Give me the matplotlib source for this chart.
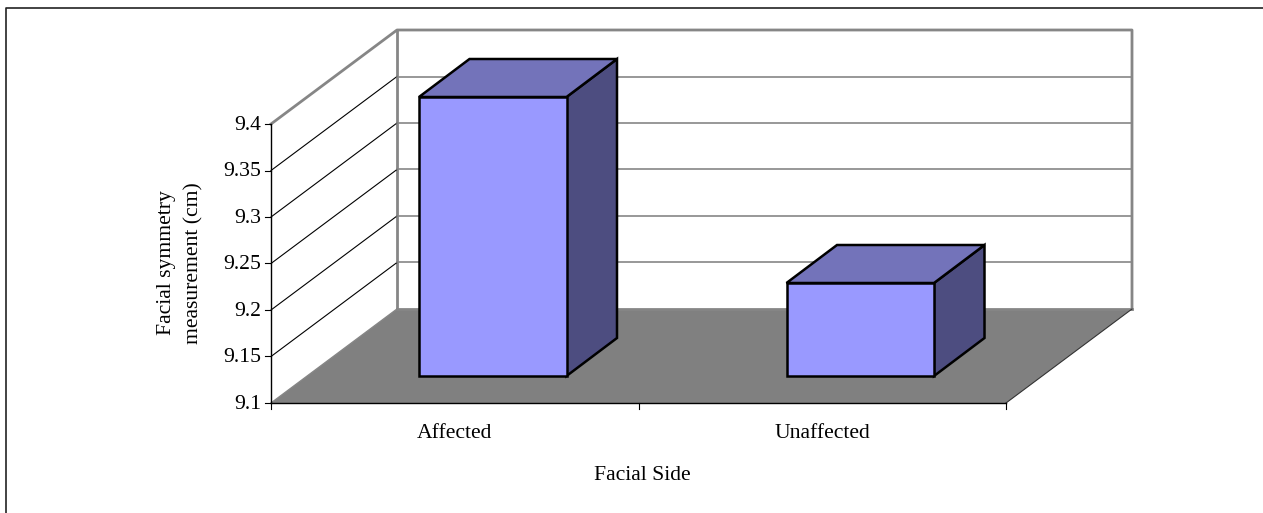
import matplotlib
matplotlib.use('Agg')
import matplotlib.pyplot as plt
from matplotlib.patches import Polygon

categories = ['Affected', 'Unaffected']
values = [9.4, 9.2]
y_ticks = [9.1, 9.15, 9.2, 9.25, 9.3, 9.35, 9.4]
y_tick_labels = ['9.1', '9.15', '9.2', '9.25', '9.3', '9.35', '9.4']

plt.rcParams['font.family'] = ['Liberation Serif']

W, H = 1263, 513
fig = plt.figure(figsize=(W / 100, H / 100), dpi=100)
ax = fig.add_axes([0, 0, 1, 1])
ax.set_xlim(0, W)
ax.set_ylim(H, 0)
ax.axis('off')

# frame of the fake 3d box, in pixels
x0, x1 = 271, 1006
y_base, px_per_unit = 403, 930
depth_x, depth_y = 126, 94
ymin = y_ticks[0]
ymax = y_ticks[-1]
font_size = 15.6


def vy(v):
    return y_base - (v - ymin) * px_per_unit


def back(x, y):
    return x + depth_x, y - depth_y


# outer border, only top and left are inside the canvas
ax.plot([6, 6, W], [H, 8, 8], color='#222222', lw=1.2, zorder=1)

# back wall and left side
gray = '#868686'
bx0, by0 = back(x0, vy(ymin))
bx1, by1 = back(x1, vy(ymin))
btx, bty = back(x0, vy(ymax))
ax.plot([x0, btx, bx1, bx1], [vy(ymax), bty, bty, by1], color=gray, lw=2, zorder=2)
ax.plot([btx, btx], [bty, by0], color=gray, lw=2, zorder=2)
for t in y_ticks[1:-1]:
    bx, by = back(x0, vy(t))
    ax.plot([x0, bx], [vy(t), by], color='black', lw=0.8, zorder=2)
    ax.plot([bx, bx1], [by, by], color=gray, lw=1.2, zorder=2)

# floor
ax.add_patch(Polygon([(x0, vy(ymin)), (bx0, by0), (bx1, by1), (x1, vy(ymin))],
                     closed=True, facecolor='#808080', edgecolor='none', zorder=3))
ax.plot([bx0, bx1], [by0, by1], color=gray, lw=2, zorder=3)
ax.plot([x0, bx0], [vy(ymin), by0], color=gray, lw=1, zorder=3)
ax.plot([x1, bx1], [vy(ymin), by1], color='#333333', lw=0.8, zorder=3)

# axes lines and ticks
ax.plot([x0, x0], [vy(ymin), vy(ymax)], color='black', lw=1, zorder=4)
ax.plot([x0, x1], [vy(ymin), vy(ymin)], color='black', lw=1, zorder=4)
for t, lab in zip(y_ticks, y_tick_labels):
    ax.plot([x0 - 6, x0], [vy(t), vy(t)], color='black', lw=0.8, zorder=4)
    ax.text(x0 - 10, vy(t) + 1.5, lab, ha='right', va='center', fontsize=font_size, color='black')

n = len(categories)
slot = (x1 - x0) / n
for i in range(n + 1):
    xt = x0 + i * slot
    ax.plot([xt, xt], [vy(ymin), vy(ymin) + 6], color='black', lw=0.8, zorder=4)

# bars, the front face sits partway into the floor
bar_w = 147.5
inset_x, inset_y = 38, 27
bar_dx, bar_dy = 50.5, 38
for i, (cat, v) in enumerate(zip(categories, values)):
    center = x0 + i * slot + slot / 2
    left = center - bar_w / 2 + inset_x
    right = left + bar_w
    bottom = vy(ymin) - inset_y
    top = vy(v) - inset_y
    side = [(right, top), (right + bar_dx, top - bar_dy), (right + bar_dx, bottom - bar_dy), (right, bottom)]
    lid = [(left, top), (left + bar_dx, top - bar_dy), (right + bar_dx, top - bar_dy), (right, top)]
    front = [(left, top), (right, top), (right, bottom), (left, bottom)]
    for pts, col in [(side, '#4D4D80'), (lid, '#7373BA'), (front, '#9999FF')]:
        ax.add_patch(Polygon(pts, closed=True, facecolor=col, edgecolor='black', lw=1.8,
                             joinstyle='miter', zorder=5))
    ax.text(center, 433, cat, ha='center', va='center', fontsize=font_size, color='black')

ax.text(642, 475, 'Facial Side', ha='center', va='center', fontsize=font_size, color='black')
ax.text(180, 263, 'Facial symmetry\nmeasurement (cm)', ha='center', va='center', rotation=90,
        fontsize=font_size, color='black', linespacing=1.6)

fig.savefig('out.png', dpi=100)
